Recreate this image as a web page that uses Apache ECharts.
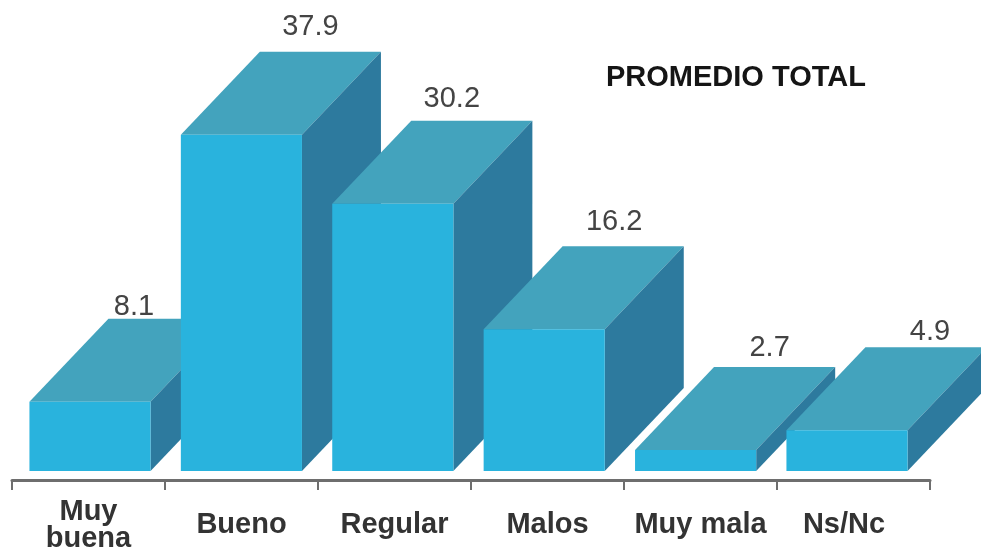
<!DOCTYPE html>
<html>
<head>
<meta charset="utf-8">
<style>html,body{margin:0;padding:0;background:#fff}#c{width:981px;height:548px}</style>
<script src="https://cdn.jsdelivr.net/npm/echarts@6/dist/echarts.min.js"></script>
</head>
<body>
<div id="c"></div>
<script>
const categories = ['Muy\nbuena', 'Bueno', 'Regular', 'Malos', 'Muy mala', 'Ns/Nc'];
const values = [8.1, 37.9, 30.2, 16.2, 2.7, 4.9];
const titleText = 'PROMEDIO TOTAL';

// layout constants (not data)
const BASE_VALUE = 0.36;
const DEPTH_X = 79, DEPTH_Y = 83;
const LABEL_NUDGE = [[44, -95], [69, -108], [59, -105], [70, -107], [74, -102], [83, -98]];
const FONT = '"Liberation Sans", Arial, sans-serif';

function renderBar(params, api) {
  const i = api.value(0);
  const v = api.value(1);
  const top = api.coord([i, v]);
  const base = api.coord([i, BASE_VALUE]);
  const w = api.size([1, 0])[0] * 0.8;
  const l = top[0] - w / 2, r = top[0] + w / 2, t = top[1], b = base[1];
  const dx = DEPTH_X, dy = DEPTH_Y;
  const n = LABEL_NUDGE[i];
  return {
    type: 'group',
    children: [
      { type: 'polygon', shape: { points: [[l, t], [r, t], [r + dx, t - dy], [l + dx, t - dy]] }, style: { fill: '#43a3bd' } },
      { type: 'polygon', shape: { points: [[r, t], [r + dx, t - dy], [r + dx, b - dy], [r, b]] }, style: { fill: '#2d7a9e' } },
      { type: 'rect', shape: { x: l, y: t, width: w, height: b - t }, style: { fill: '#29b3dd' } },
      { type: 'text', style: { x: top[0] + n[0], y: t + n[1], text: v.toFixed(1), fill: '#444', font: '29px ' + FONT, align: 'center', verticalAlign: 'middle' } }
    ]
  };
}

const chart = echarts.init(document.getElementById('c'), null, { renderer: 'canvas' });
chart.setOption({
  animation: false,
  backgroundColor: '#ffffff',
  title: {
    text: titleText, left: 601, top: 58,
    textStyle: { fontFamily: FONT, fontSize: 29, fontWeight: 'bold', color: '#151515' }
  },
  grid: [
    { left: 14.3, width: 908.4, top: 116, bottom: 77, outerBoundsMode: 'none' },
    { left: 12, width: 918, top: 116, bottom: 68, outerBoundsMode: 'none' }
  ],
  xAxis: [
    { gridIndex: 0, type: 'category', data: categories, show: false },
    {
      gridIndex: 1, type: 'category', data: categories, position: 'bottom',
      axisLine: { show: true, lineStyle: { color: '#6e6e6e', width: 3 } },
      axisTick: { show: true, length: 10, alignWithLabel: false, lineStyle: { color: '#6e6e6e', width: 2 } },
      axisLabel: {
        interval: 0, margin: 45, verticalAlign: 'middle', lineHeight: 27,
        fontFamily: FONT, fontSize: 29, fontWeight: 'bold', color: '#333',
        formatter: function (s) { return s === 'Ns/Nc' ? '{shift|' + s + '}' : s; },
        rich: { shift: { fontFamily: FONT, fontSize: 29, fontWeight: 'bold', color: '#333', padding: [0, 19, 0, 0] } }
      }
    }
  ],
  yAxis: [
    { gridIndex: 0, type: 'value', min: BASE_VALUE, max: 40, show: false },
    { gridIndex: 1, type: 'value', min: 0, max: 40, show: false }
  ],
  series: [
    {
      type: 'custom', xAxisIndex: 0, yAxisIndex: 0, clip: false,
      renderItem: renderBar,
      data: values.map((v, i) => [i, v]),
      encode: { x: 0, y: 1 }
    },
    { type: 'line', xAxisIndex: 1, yAxisIndex: 1, data: [], silent: true }
  ]
});
</script>
</body>
</html>
